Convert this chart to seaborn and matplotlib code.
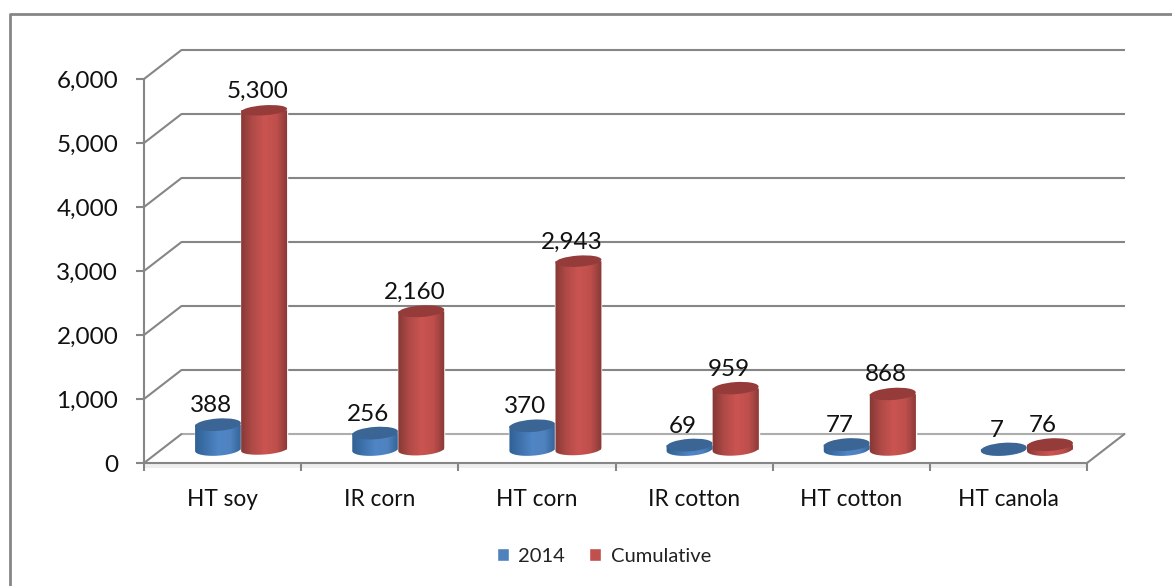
import numpy as np
import pandas as pd
import seaborn as sns
import matplotlib.pyplot as plt
from matplotlib.colors import LinearSegmentedColormap
from matplotlib.lines import Line2D
from matplotlib.patches import Ellipse, PathPatch, Rectangle
from matplotlib.path import Path
from matplotlib.transforms import Affine2D, IdentityTransform

crops = ['HT soy', 'IR corn', 'HT corn', 'IR cotton', 'HT cotton', 'HT canola']
val_2014 = [388, 256, 370, 69, 77, 7]
val_cum = [5300, 2160, 2943, 959, 868, 76]
val_labels = ['388', '256', '370', '69', '77', '7', '5,300', '2,160', '2,943', '959', '868', '76']
series = ['2014', 'Cumulative']
yticks = [0, 1000, 2000, 3000, 4000, 5000, 6000]
ytick_labels = ['0', '1,000', '2,000', '3,000', '4,000', '5,000', '6,000']

W, H = 1172, 586
GRAY = '#868686'
sns.set_theme(style='white')
plt.rcParams['font.family'] = ['Lato', 'DejaVu Sans']

df = pd.DataFrame({'crop': crops * 2,
                   'area': val_2014 + val_cum,
                   'serie': [series[0]] * 6 + [series[1]] * 6})

fig = plt.figure(figsize=(W / 100, H / 100), dpi=100, facecolor='white')
ax = fig.add_axes([144 / W, 1 - 463 / H, (1087 - 144) / W, (463 - 79) / H])
ax.patch.set_alpha(0)

sns.barplot(data=df, x='crop', y='area', hue='serie', palette=['#4F81BD', '#C0504D'],
            width=0.586, gap=0, saturation=1, errorbar=None, ax=ax)
ax.set_xlim(-0.5, 5.5)
ax.set_ylim(0, 6000)
ax.set_xlabel('')
ax.set_ylabel('')

# the back wall sits up and to the right of the front plane
shift_wall = ax.transData + Affine2D().translate(37.5, 29)
shift_bar = ax.transData + Affine2D().translate(18.5, 13.5)

ax.hlines(yticks[1:], -0.5, 5.5, colors=GRAY, lw=1.5, transform=shift_wall, clip_on=False, zorder=1)
ax.hlines(0, -0.5, 5.5, colors='#adadad', lw=1.5, transform=shift_wall, clip_on=False, zorder=1)
for y in yticks:
    p0 = ax.transData.transform((-0.5, y))
    p1 = shift_wall.transform((-0.5, y))
    ax.add_line(Line2D([p0[0], p1[0]], [p0[1], p1[1]], color=GRAY, lw=1.5,
                       transform=IdentityTransform(), clip_on=False, zorder=1))
p0 = ax.transData.transform((5.5, 0))
p1 = shift_wall.transform((5.5, 0))
ax.add_line(Line2D([p0[0], p1[0]], [p0[1], p1[1]], color=GRAY, lw=1.5,
                   transform=IdentityTransform(), clip_on=False, zorder=1))
ax.add_patch(Rectangle((-0.5, 0), 6, -85, facecolor='#eeeeee', edgecolor='none', clip_on=False, zorder=0))

cmaps = [LinearSegmentedColormap.from_list('b', ['#2F5F92', '#3F72AC', '#5086C6', '#4F82BF', '#2F5F92']),
         LinearSegmentedColormap.from_list('r', ['#833734', '#B04A47', '#CB5451', '#BE4F4C', '#833734'])]
top_cols = ['#3A6594', '#953B39']
grad = np.linspace(0, 1, 128).reshape(1, -1)
tilt = 4

k = 0
for s, cont in enumerate(ax.containers):
    z = 3 + 3 * s
    for bar in cont:
        bar.set_transform(shift_bar)
        bar.set_clip_on(False)
        bar.set_zorder(z)
        val = bar.get_height()
        xc = bar.get_x() + bar.get_width() / 2
        x0, y0 = shift_bar.transform((bar.get_x(), 0))
        x1, y1 = shift_bar.transform((bar.get_x() + bar.get_width(), val))
        cx = (x0 + x1) / 2
        rx = (x1 - x0) / 2
        ry = (12.5 - 2.5 * val / 5300) / 2
        t = np.radians(tilt)
        # outline: lower half of base ellipse, then straight up to the top
        a = np.linspace(np.pi, 2 * np.pi, 40)
        ex = rx * np.cos(a) * np.cos(t) - ry * np.sin(a) * np.sin(t) + cx
        ey = rx * np.cos(a) * np.sin(t) + ry * np.sin(a) * np.cos(t) + y0
        verts = np.column_stack([np.r_[ex, ex[-1], ex[0], ex[0]], np.r_[ey, y1, y1, ey[0]]])
        clip = PathPatch(Path(verts), transform=IdentityTransform())
        im = ax.imshow(grad, cmap=cmaps[s], aspect='auto', transform=IdentityTransform(),
                       extent=(x0 - 1, x1 + 1, y0 - 12, y1 + 12), zorder=z + 1)
        im.set_clip_path(clip)
        ax.add_patch(Ellipse((cx, y1), 2 * rx, 2 * ry, angle=tilt, facecolor=top_cols[s], edgecolor='none',
                             transform=IdentityTransform(), clip_on=False, zorder=z + 2))
        ax.annotate(val_labels[k], xy=(xc, val), xycoords=shift_bar, xytext=(-7 * 0.72, 19 * 0.72),
                    textcoords='offset points', ha='center', va='center', fontsize=17.5,
                    color='#111111', zorder=20)
        k += 1

ax.set_xlim(-0.5, 5.5)
ax.set_ylim(0, 6000)

sns.despine(ax=ax, top=True, right=True)
for side in ['left', 'bottom']:
    ax.spines[side].set_color(GRAY)
    ax.spines[side].set_linewidth(1.5)
    ax.spines[side].set_zorder(2)

ax.set_yticks(yticks)
ax.set_yticklabels(ytick_labels, fontsize=17.5, color='#111111')
ax.tick_params(axis='y', left=True, length=5.5, width=1.5, color=GRAY, pad=13)
ax.set_xticks(range(6))
ax.set_xticklabels(crops, fontsize=16.3, color='#111111')
ax.set_xticks(np.arange(-0.5, 6), minor=True)
ax.tick_params(axis='x', which='major', bottom=False, pad=13)
ax.tick_params(axis='x', which='minor', bottom=True, length=5.5, width=1.5, color=GRAY)

handles, labels = ax.get_legend_handles_labels()
ax.legend(handles, labels, loc='center', bbox_to_anchor=(604 / W, 1 - 556 / H),
          bbox_transform=fig.transFigure, ncol=2, frameon=False, fontsize=14.5,
          handlelength=0.6, handleheight=0.6, handletextpad=0.45, columnspacing=1.2,
          labelcolor='#222222')

# outer chart frame, runs off the right and bottom of the image
fig.add_artist(Line2D([10 / W, 10 / W, 1], [0, 1 - 14 / H, 1 - 14 / H], color=GRAY, lw=2))

fig.savefig('out.png', dpi=100, facecolor='white')
